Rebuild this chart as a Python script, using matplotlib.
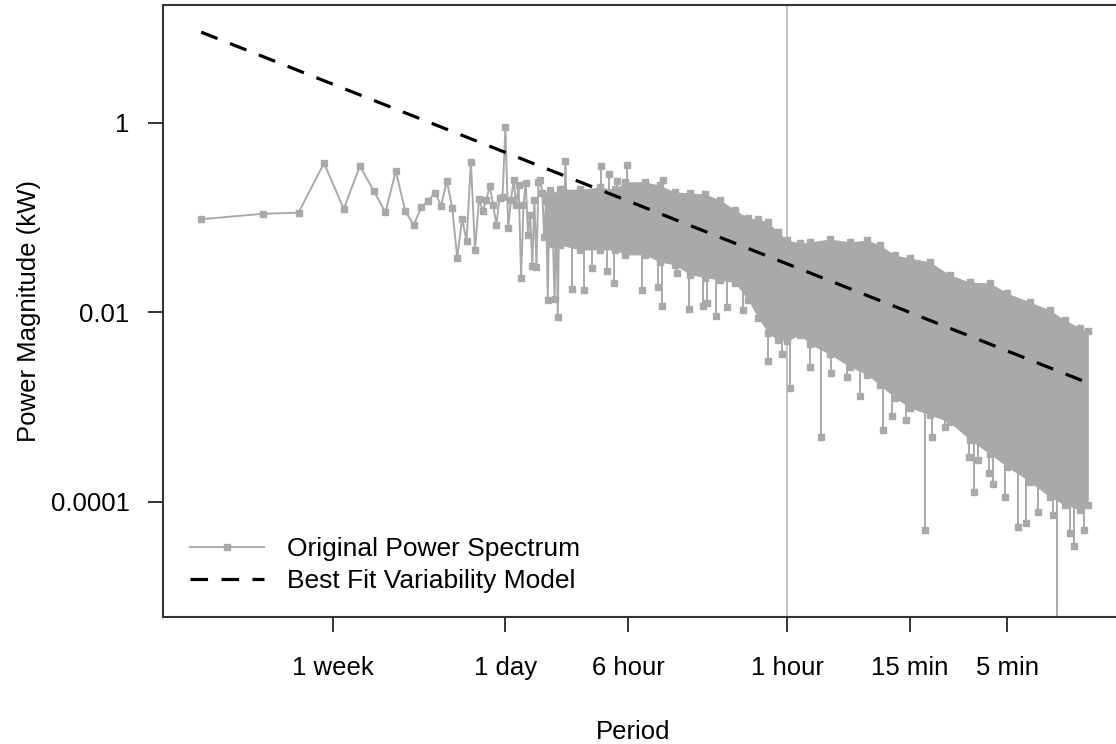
import numpy as np
import matplotlib.pyplot as plt

plt.rcParams["font.family"] = ["Liberation Sans", "DejaVu Sans"]
plt.rcParams["figure.figsize"] = (11.16, 7.44)

GRAY = "#a9a9a9"

# record length in hours (one month), harmonics k -> frequency k / record_hours
record_hours = 744

# low harmonics, each point read separately (kW)
harmonic = list(range(1, 63))
low_power = [0.0964, 0.110, 0.113, 0.376, 0.124, 0.352, 0.193, 0.114, 0.311, 0.118,
             0.0838, 0.129, 0.151, 0.184, 0.134, 0.244, 0.128, 0.0376, 0.0977, 0.0568,
             0.388, 0.0457, 0.157, 0.118, 0.154, 0.216, 0.136, 0.084, 0.161, 0.166,
             0.907, 0.078, 0.154, 0.250, 0.136, 0.222, 0.023, 0.136, 0.232, 0.066,
             0.107, 0.031, 0.154, 0.030, 0.238, 0.250, 0.183, 0.063, 0.150, 0.0136,
             0.196, 0.053, 0.058, 0.0139, 0.136, 0.0090, 0.154, 0.084, 0.174, 0.074,
             0.397, 0.107]

# dense part of the spectrum: upper / lower edge of the gray mass (cycles per hour)
env_freq = [0.066, 0.077, 0.0966, 0.121, 0.144, 0.161, 0.201, 0.238, 0.2825, 0.335, 0.3965,
            0.470, 0.556, 0.644, 0.721, 0.807, 0.904, 1.0, 1.158, 1.297, 1.624,
            2.036, 2.48, 2.857, 3.38, 4.008, 5.022, 6.295, 7.889, 9.887, 12.0,
            15.53, 19.46, 23.0, 27.3, 30.0]
env_upper = [0.17, 0.20, 0.20, 0.21, 0.20, 0.24, 0.24, 0.22, 0.187, 0.183, 0.178,
             0.154, 0.121, 0.0994, 0.097, 0.090, 0.0707, 0.0582, 0.0542, 0.0555, 0.0597,
             0.0555, 0.0582, 0.0514, 0.0404, 0.0376, 0.0342, 0.0249, 0.0209, 0.0205, 0.0160,
             0.0129, 0.0106, 0.0083, 0.0069, 0.0063]
env_lower = [0.065, 0.0515, 0.0457, 0.0457, 0.0457, 0.0405, 0.0405, 0.0341, 0.0317, 0.025, 0.0233,
             0.022, 0.0205, 0.0136, 0.0088, 0.0061, 0.0051, 0.0050, 0.0058, 0.0046, 0.0036,
             0.00266, 0.0022, 0.0017, 0.00126, 0.00098, 0.00083, 0.00069, 0.00045, 0.00032, 0.000235,
             0.000163, 0.000112, 0.000093, 0.000082, 0.000093]

# single points sticking out of the mass
spike_freq = [0.1225, 0.134, 0.147, 0.164, 0.247, 0.0883, 0.101, 0.111, 0.131, 0.142,
              0.195, 0.233, 0.244, 0.289, 0.331, 0.388, 0.405, 0.449, 0.508, 0.608,
              0.807, 0.945, 1.04, 1.297, 1.468, 1.643, 1.968, 2.279, 2.955, 3.27,
              3.83, 4.75, 5.14, 5.95, 7.80, 8.26, 8.63, 9.77, 10.2, 11.7,
              13.6, 14.8, 17.0, 20.1, 21.1, 24.4, 25.5, 28.6]
spike_power = [0.351, 0.29, 0.244, 0.36, 0.25, 0.0176, 0.0173, 0.0294, 0.0276, 0.0205,
               0.0173, 0.0186, 0.0117, 0.0263, 0.0110, 0.0117, 0.0126, 0.0092, 0.0114, 0.0106,
               0.0031, 0.0036, 0.0016, 0.00266, 0.00049, 0.0023, 0.0021, 0.00131, 0.00058, 0.00081,
               0.00073, 5.1e-5, 0.00048, 0.00062, 0.000295, 0.000126, 0.000277, 0.000202, 0.000155, 0.000113,
               5.4e-5, 6.0e-5, 7.9e-5, 7.3e-5, 3e-6, 4.7e-5, 3.4e-5, 5.1e-5]

# best fit variability model (straight line in log-log), end points
fit_freq = [1 / 744, 30.0]
fit_power = [9.1, 0.0018]

# period ticks, in cycles per hour
tick_freq = [1 / 168, 1 / 24, 1 / 6, 1, 4, 12]
tick_text = ["1 week", "1 day", "6 hour", "1 hour", "15 min", "5 min"]
ytick_val = [1, 0.01, 0.0001]
ytick_text = ["1", "0.01", "0.0001"]

fig = plt.figure()
ax = fig.add_axes([0.146, 0.1707, 0.854, 0.8226])
ax.set_xscale("log")
ax.set_yscale("log")

ax.axvline(1, color="#bdbdbd", lw=1.3, zorder=1)

ax.fill_between(env_freq, env_lower, env_upper, color=GRAY, lw=0, zorder=2)
ax.plot(env_freq, env_upper, "s", color=GRAY, ms=4.8, zorder=2)
ax.plot(env_freq, env_lower, "s", color=GRAY, ms=4.8, zorder=2)

lf = np.log(env_freq)
mid = np.exp(np.interp(np.log(spike_freq), lf, 0.5 * (np.log(env_upper) + np.log(env_lower))))
ax.vlines(spike_freq, mid, spike_power, color=GRAY, lw=1.4, zorder=2)
ax.plot(spike_freq, spike_power, "s", color=GRAY, ms=4.8, zorder=2)

low_freq = np.array(harmonic) / record_hours
ax.plot(low_freq, low_power, "-s", color=GRAY, ms=4.8, lw=1.4, zorder=3,
        label="Original Power Spectrum")
ax.plot(fit_freq, fit_power, color="black", lw=2.3, dashes=(5.5, 4.2), zorder=4,
        label="Best Fit Variability Model")

ax.set_xlim(8.73e-4, 41.0)
ax.set_ylim(6.1e-6, 17.6)
ax.set_xticks(tick_freq)
ax.set_xticklabels(tick_text)
ax.set_yticks(ytick_val)
ax.set_yticklabels(ytick_text)
ax.minorticks_off()
ax.tick_params(axis="both", length=11, width=1.4, color="#333333", labelsize=18.5)
ax.tick_params(axis="x", pad=17)
ax.tick_params(axis="y", pad=13)

for s in ["left", "top", "bottom"]:
    ax.spines[s].set_linewidth(1.5)
    ax.spines[s].set_color("#333333")
ax.spines["right"].set_visible(False)

ax.set_xlabel("Period", fontsize=18.5)
ax.xaxis.set_label_coords(0.493, -0.168)
ax.set_ylabel("Power Magnitude (kW)", fontsize=18.5)
ax.yaxis.set_label_coords(-0.128, 0.5)

ax.legend(loc="upper left", bbox_to_anchor=(0.028, 0.131), frameon=False,
          fontsize=19, handlelength=2.8, handletextpad=0.9, labelspacing=0.3,
          borderpad=0, borderaxespad=0, numpoints=1)

fig.savefig("out.png", dpi=100)
